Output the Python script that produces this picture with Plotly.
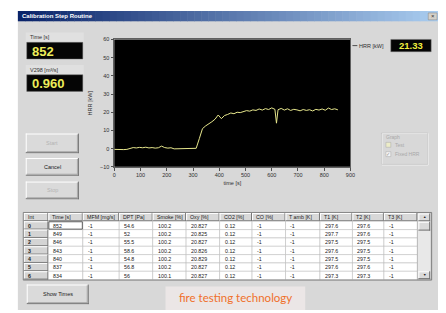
import plotly.graph_objects as go

# page has an 8px body margin, so the figure is 8px smaller than the window
OFF = 8
W, H = 446 - OFF, 313 - OFF

# ---------------- data ----------------
time_s = [0, 12, 24, 36, 48, 60, 72, 84, 96, 108, 120, 132, 144, 156, 168, 180, 192, 204, 216,
          228, 240, 252, 264, 276, 288, 300, 312, 324, 336, 348, 360, 372, 384, 396, 408, 420,
          432, 444, 456, 468, 480, 492, 504, 516, 528, 540, 552, 564, 576, 588, 600, 612, 618,
          624, 636, 648, 660, 672, 684, 696, 708, 720, 732, 744, 756, 768, 780, 792, 804, 816,
          828, 840, 852]
hrr_kw = [-0.4, -0.5, -0.3, -0.5, -0.4, 0.3, 0.6, 0.4, 0.7, 0.5, 0.8, 0.4, 0.6, 0.3, 0.5, 1.4,
          0.6, 0.3, 0.5, -0.1, 0.0, -0.2, 0.1, 0.2, 0.0, 0.3, 0.2, 5.5, 11.0, 12.5, 13.5, 14.8,
          16.2, 18.5, 16.5, 18.2, 18.8, 19.6, 19.2, 20.0, 19.8, 20.4, 20.9, 20.6, 21.3, 21.0,
          21.8, 21.2, 22.0, 21.5, 22.4, 21.6, 14.0, 21.4, 22.1, 21.2, 21.9, 21.0, 21.6, 21.3,
          20.8, 21.5, 21.0, 21.4, 20.7, 21.6, 21.2, 21.8, 21.1, 22.3, 21.5, 21.9, 21.33]
x_ticks = [0, 100, 200, 300, 400, 500, 600, 700, 800, 900]
y_ticks = [-10, 0, 10, 20, 30, 40, 50, 60]

window_title = "Calibration Step Routine"
time_label, time_value = "Time [s]", "852"
flow_label, flow_value = "V298 [m³/s]", "0.960"
hrr_label, hrr_value = "HRR [kW]", "21.33"

table_headers = ["Int", "Time [s]", "MFM [mg/s]", "DPT [Pa]", "Smoke [%]", "Oxy [%]",
                 "CO2 [%]", "CO [%]", "T amb [K]", "T1 [K]", "T2 [K]", "T3 [K]"]
col_int = ["0", "1", "2", "3", "4", "5", "6"]
col_time = ["852", "849", "846", "843", "840", "837", "834"]
col_mfm = ["-1", "-1", "-1", "-1", "-1", "-1", "-1"]
col_dpt = ["54.6", "52", "55.5", "58.6", "54.8", "56.8", "56"]
col_smoke = ["100.2", "100.2", "100.2", "100.2", "100.2", "100.2", "100.1"]
col_oxy = ["20.827", "20.825", "20.827", "20.826", "20.829", "20.827", "20.827"]
col_co2 = ["0.12", "0.12", "0.12", "0.12", "0.12", "0.12", "0.12"]
col_co = ["-1", "-1", "-1", "-1", "-1", "-1", "-1"]
col_tamb = ["-1", "-1", "-1", "-1", "-1", "-1", "-1"]
col_t1 = ["297.6", "297.7", "297.5", "297.6", "297.5", "297.6", "297.3"]
col_t2 = ["297.6", "297.6", "297.5", "297.5", "297.5", "297.6", "297.3"]
col_t3 = ["-1", "-1", "-1", "-1", "-1", "-1", "-1"]

# ---------------- layout constants (page pixels) ----------------
PLOT_X = (114, 354)
PLOT_Y = (37, 167)
TABLE_COLS_X = [22, 47, 82, 119, 153, 187, 221, 254, 288, 323, 356, 388, 422]
TABLE_TOP, HEAD_H, ROW_H = 214, 8.5, 8.5

FONT = "Arial, Liberation Sans, sans-serif"
BG = "#d8d8d8"
shapes, annos = [], []


def fx(x):
    return (x - OFF) / W


def fy(y):
    return 1 - (y - OFF) / H


def rect(x0, y0, x1, y1, fill, line=None, lw=0, layer="below"):
    shapes.append(dict(type="rect", xref="paper", yref="paper", x0=fx(x0), x1=fx(x1),
                       y0=fy(y1), y1=fy(y0), fillcolor=fill, layer=layer,
                       line=dict(color=line or fill, width=lw)))


def hline(x0, x1, y, color, lw=1, layer="below"):
    shapes.append(dict(type="line", xref="paper", yref="paper", x0=fx(x0), x1=fx(x1),
                       y0=fy(y), y1=fy(y), layer=layer, line=dict(color=color, width=lw)))


def vline(x, y0, y1, color, lw=1, layer="below"):
    shapes.append(dict(type="line", xref="paper", yref="paper", x0=fx(x), x1=fx(x),
                       y0=fy(y0), y1=fy(y1), layer=layer, line=dict(color=color, width=lw)))


def text(x, y, s, size=5.5, color="#202020", anchor="left", bold=False, family=FONT):
    annos.append(dict(x=fx(x), y=fy(y), xref="paper", yref="paper",
                      text=f"<b>{s}</b>" if bold else s,
                      showarrow=False, xanchor=anchor, yanchor="middle", borderpad=0,
                      font=dict(size=size, color=color, family=family)))


def bevel(x0, y0, x1, y1, fill="#dadada"):
    rect(x0, y0, x1, y1, fill)
    hline(x0, x1, y0 + 0.5, "#ffffff", 1)
    vline(x0 + 0.5, y0, y1, "#ffffff", 1)
    hline(x0, x1, y1 - 0.5, "#707070", 1)
    vline(x1 - 0.5, y0, y1, "#707070", 1)


def button(x0, y0, x1, y1, label, enabled=True):
    bevel(x0, y0, x1, y1)
    hline(x0 + 1, x1 - 1, y1 - 1.5, "#a8a8a8")
    vline(x1 - 1.5, y0 + 1, y1 - 1, "#a8a8a8")
    text((x0 + x1) / 2, (y0 + y1) / 2, label, 5.5, "#202020" if enabled else "#b4b4b4", "center")


# ---------------- window chrome ----------------
rect(16, 8, 446, 313, BG)
n = 60
c0, c1 = (10, 36, 106), (170, 205, 240)
for i in range(n):
    t = i / (n - 1)
    col = "rgb(%d,%d,%d)" % tuple(int(a + (b - a) * t) for a, b in zip(c0, c1))
    xa = 16 + (446 - 16) * i / n
    xb = 16 + (446 - 16) * (i + 1) / n + 0.5
    rect(xa, 8, xb, 18.5, col)
text(19, 13.3, window_title, 6, "#ffffff", bold=True)
rect(433, 10, 442, 17, "#d4d0c8", "#808080", 0.5)
text(437.5, 13.3, "×", 6, "#303030", "center")

# plot area background (black)
rect(PLOT_X[0], PLOT_Y[0], PLOT_X[1], PLOT_Y[1], "#000000")

# left displays
for (ly, by0, by1, lab, val) in [(35, 40, 57, time_label, time_value),
                                 (68, 73, 90, flow_label, flow_value)]:
    rect(24, ly - 5, 83, by1 + 1, "#e0e0e0")
    text(27, ly, lab, 5.5, "#303030")
    rect(25, by0, 82, by1, "#050505", "#707070", 0.5)
    text(29, (by0 + by1) / 2 + 0.5, val, 13, "#eded5a", bold=True)

# buttons
button(24, 133, 78, 153, "Start", False)
button(24, 158, 78, 176, "Cancel", True)
button(24, 182, 78, 200, "Stop", False)
button(25, 287, 88, 307, "Show Times", True)

# HRR readout with legend line
hline(356, 361, 43.3, "#505050", 1)
text(362, 43.3, hrr_label, 5.5, "#303030")
rect(395, 37, 436, 49.5, "#050505", "#707070", 0.5)
text(415.5, 43.5, hrr_value, 9.5, "#f0f040", "center", bold=True)

# graph groupbox
rect(386, 133, 433, 165, "rgba(0,0,0,0)", "#f4f4f4", 1)
rect(385.5, 132.5, 432.5, 164.5, "rgba(0,0,0,0)", "#bdbdbd", 0.6)
rect(388, 134, 402, 139, BG)
text(389, 136.5, "Graph", 5, "#a8a8a8")
rect(390, 142, 395, 147, "#ececc8", "#a8a8a8", 0.5)
text(398, 144.5, "Test", 5, "#a8a8a8")
rect(390, 151.5, 395, 156.5, "#f4f4f4", "#a8a8a8", 0.5)
text(392.5, 154, "✓", 4.5, "#909090", "center")
text(398, 154, "Fixed HRR", 5, "#a8a8a8")

# ---------------- table ----------------
cols = [col_int, col_time, col_mfm, col_dpt, col_smoke, col_oxy, col_co2, col_co,
        col_tamb, col_t1, col_t2, col_t3]
n_rows = len(col_int)
table_bottom = TABLE_TOP + HEAD_H + ROW_H * n_rows
rect(TABLE_COLS_X[0], TABLE_TOP, TABLE_COLS_X[-1], table_bottom, "#ffffff")
for j, (name, col) in enumerate(zip(table_headers, cols)):
    x0, x1 = TABLE_COLS_X[j], TABLE_COLS_X[j + 1]
    bevel(x0, TABLE_TOP, x1, TABLE_TOP + HEAD_H, "#d8d8d8")
    text(x0 + 3, TABLE_TOP + HEAD_H / 2 + 0.3, name, 5.3, "#202020")
    for i, v in enumerate(col):
        y0 = TABLE_TOP + HEAD_H + i * ROW_H
        if j == 0:
            bevel(x0, y0, x1, y0 + ROW_H, "#d4d4d4")
            text(x0 + 3, y0 + ROW_H / 2 + 0.3, v, 5.3, "#202020", bold=True)
        else:
            rect(x0, y0, x1, y0 + ROW_H, "#ffffff", "#b4b4b4", 0.5)
            text(x0 + 4, y0 + ROW_H / 2 + 0.3, v, 5.3, "#202020")
# focus cell
rect(TABLE_COLS_X[1] + 0.5, TABLE_TOP + HEAD_H + 0.5, TABLE_COLS_X[2] - 0.5,
     TABLE_TOP + HEAD_H + ROW_H - 0.5, "rgba(0,0,0,0)", "#404040", 0.8)

# table scrollbar
rect(422, 214, 436, 282, "#e8e8e8", "#909090", 0.5)
bevel(423, 214.5, 435, 222.5)
text(429, 218.5, "▲", 3.5, "#202020", "center")
bevel(423, 223, 435, 232)
bevel(423, 273.5, 435, 281.5)
text(429, 277.5, "▼", 3.5, "#202020", "center")
rect(21.5, 213.5, 436.5, 282.5, "rgba(0,0,0,0)", "#707070", 0.8)

# logo
rect(166, 289, 308, 313, "#ebe6e6")
text(237, 300, "fire testing technology", 11.5, "#f0702a", "center",
     family="Lato, Open Sans, sans-serif")

# ---------------- figure ----------------
fig = go.Figure()
fig.add_trace(go.Scatter(x=time_s, y=hrr_kw, mode="lines", name="HRR [kW]",
                         line=dict(color="#e6e68c", width=1), showlegend=False))

axis_font = dict(size=5.5, color="#303030", family=FONT)
fig.update_layout(
    width=W, height=H, autosize=False,
    margin=dict(l=0, r=0, t=0, b=0),
    paper_bgcolor="#ffffff", plot_bgcolor="#000000",
    showlegend=False,
    shapes=shapes, annotations=annos,
    xaxis=dict(domain=[fx(PLOT_X[0]), fx(PLOT_X[1])], range=[0, 900], tickvals=x_ticks,
               ticks="outside", ticklen=3, tickcolor="#505050", showgrid=False, zeroline=False,
               showline=True, linecolor="#606060", linewidth=0.6, mirror=True,
               tickfont=axis_font,
               title=dict(text="time [s]", font=axis_font, standoff=3)),
    yaxis=dict(domain=[fy(PLOT_Y[1]), fy(PLOT_Y[0])], range=[-10, 60], tickvals=y_ticks,
               ticks="outside", ticklen=3, tickcolor="#505050", showgrid=False, zeroline=False,
               showline=True, linecolor="#606060", linewidth=0.6, mirror=True,
               tickfont=axis_font,
               title=dict(text="HRR [kW]", font=axis_font, standoff=7)),
)

fig.write_html("out.html")
